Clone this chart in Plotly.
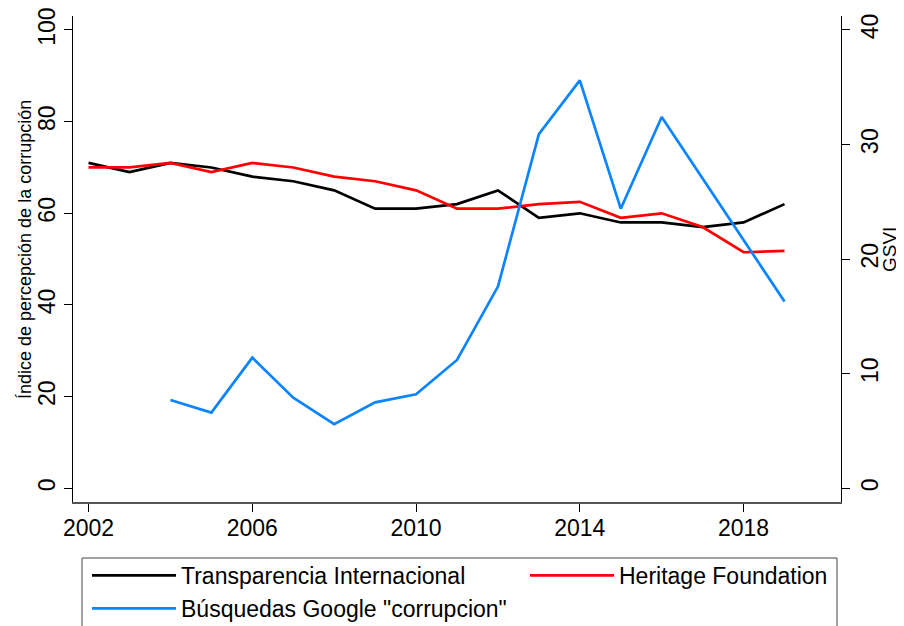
import plotly.graph_objects as go

years = list(range(2002, 2020))
transparencia = [71, 69, 71, 70, 68, 67, 65, 61, 61, 62, 65, 59, 60, 58, 58, 57, 58, 62]
heritage = [70, 70, 71, 69, 71, 70, 68, 67, 65, 61, 61, 62, 62.5, 59, 60, 57, 51.5, 51.8]
gsvi_years = list(range(2004, 2020))
gsvi = [7.7, 6.6, 11.4, 7.9, 5.6, 7.5, 8.2, 11.2, 17.6, 30.9, 35.6, 24.4, 32.4, 27.0, 21.6, 16.3]

x_ticks = [2002, 2006, 2010, 2014, 2018]
y_ticks = [0, 20, 40, 60, 80, 100]
y2_ticks = [0, 10, 20, 30, 40]

names = ["Transparencia Internacional", "Heritage Foundation", 'Búsquedas Google "corrupcion"']
colors = ["#000000", "#FF0000", "#0A84FF"]
y_title = "Índice de percepción de la corrupción"
y2_title = "GSVI"

FONT = "Liberation Sans, Arial, sans-serif"

# the page body adds an 8px offset; compensate so the plot lands on the target pixels
OFF = 8
FIG_W, FIG_H = 904 - OFF, 626 - OFF
# plot area in window pixels
L, R, T, B = 73, 841, 16, 502
W, H = R - L, B - T


def px_x(px):
    return (px - L) / W


def px_y(py):
    return (B - py) / H


fig = go.Figure()
fig.add_trace(go.Scatter(x=years, y=transparencia, mode="lines", name=names[0],
                         line=dict(color=colors[0], width=2.7), legend="legend",
                         legendrank=1))
fig.add_trace(go.Scatter(x=years, y=heritage, mode="lines", name=names[1],
                         line=dict(color=colors[1], width=2.7), legend="legend2"))
fig.add_trace(go.Scatter(x=gsvi_years, y=gsvi, mode="lines", name=names[2], yaxis="y2",
                         line=dict(color=colors[2], width=2.7), legend="legend",
                         legendrank=2))

legend_common = dict(orientation="v", xanchor="left", yanchor="top",
                     borderwidth=0, bgcolor="rgba(0,0,0,0)",
                     font=dict(size=23, family=FONT, color="black"),
                     itemwidth=84, tracegroupgap=0)

fig.update_layout(
    width=FIG_W, height=FIG_H,
    margin=dict(l=L - OFF, r=FIG_W - (R - OFF), t=T - OFF, b=FIG_H - (B - OFF), autoexpand=False),
    paper_bgcolor="white", plot_bgcolor="white",
    font=dict(family=FONT, color="black"),
    xaxis=dict(range=[2001.62, 2020.38], tickvals=x_ticks, ticks="outside", ticklen=8,
               tickcolor="black", showline=True, linecolor="#555555", linewidth=1.5,
               showgrid=False, zeroline=False, tickfont=dict(size=23, family=FONT),
               ticklabeloverflow="allow", ticklabelstandoff=-3),
    yaxis=dict(range=[-3.0, 103.05], tickvals=y_ticks, ticks="outside", ticklen=8,
               tickcolor="black", tickangle=-90, showline=True, linecolor="black", linewidth=1,
               showgrid=False, zeroline=False, tickfont=dict(size=23, family=FONT),
               ticklabeloverflow="allow"),
    yaxis2=dict(range=[-1.2, 41.22], tickvals=y2_ticks, ticks="outside", ticklen=8,
                tickcolor="black", tickangle=-90, showline=True, linecolor="black", linewidth=1,
                overlaying="y", side="right", showgrid=False, zeroline=False,
                tickfont=dict(size=23, family=FONT), ticklabeloverflow="allow"),
    legend=dict(x=px_x(87), y=px_y(554), **legend_common),
    legend2=dict(x=px_x(525), y=px_y(554), **legend_common),
    showlegend=True,
    shapes=[dict(type="rect", xref="paper", yref="paper",
                 x0=px_x(82), x1=px_x(837), y0=px_y(660), y1=px_y(558),
                 line=dict(color="#444444", width=1), fillcolor="rgba(0,0,0,0)",
                 layer="below")],
    annotations=[
        dict(text=y_title, xref="paper", yref="paper", x=px_x(25), y=px_y(250),
             xanchor="center", yanchor="middle", textangle=-90, showarrow=False,
             font=dict(size=18, family=FONT, color="black")),
        dict(text=y2_title, xref="paper", yref="paper", x=px_x(889), y=px_y(250),
             xanchor="center", yanchor="middle", textangle=-90, showarrow=False,
             font=dict(size=19, family=FONT, color="black")),
    ],
)

fig.write_html("out.html")
